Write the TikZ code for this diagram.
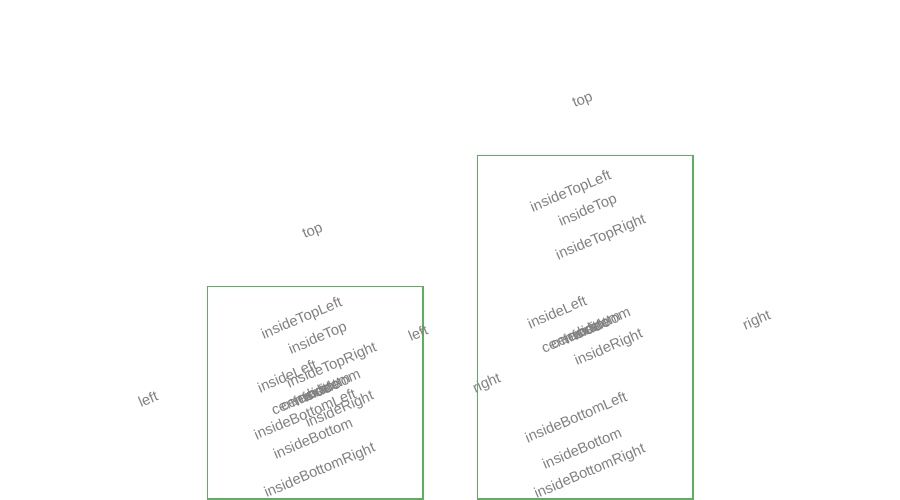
\documentclass[tikz,border=0pt]{standalone}
\usepackage{fontspec}
\setmainfont{Liberation Sans}
\definecolor{barline}{RGB}{92,178,92}
\definecolor{lblgray}{RGB}{128,128,128}
\begin{document}
\begin{tikzpicture}[x=1pt,y=-1pt,
  lbl/.style={font=\fontsize{14.6}{16}\selectfont,text=lblgray,rotate=23,inner sep=0pt,anchor=center},
  barbox/.style={draw=barline,line width=1.4pt}]
\useasboundingbox (0,0) rectangle (900,500);
% bars
\draw[barbox] (207.5,286.5) rectangle (423,499);
\draw[barbox] (477.5,155.5) rectangle (693,499);
% left bar labels
\node[lbl] (Ltop) at (313,232) {top};
\node[lbl] (Lleft) at (148,399) {left};
\node[lbl] (Lright) at (487,384) {right};
\node[lbl] (LTL) at (302,319) {insideTopLeft};
\node[lbl] (LT) at (318,339) {insideTop};
\node[lbl] (LTR) at (332,366) {insideTopRight};
\node[lbl] (LL) at (287,376) {insideLeft};
\node[lbl] (Lcen) at (291,403) {center};
\node[lbl] (Lcen2) at (300,399) {center};
\node[lbl] (Lin) at (313,394) {inside};
\node[lbl] (Lin2) at (322,390) {inside};
\node[lbl] (Lbot) at (329,386) {bottom};
\node[lbl] (Lbot2) at (339,382) {bottom};
\node[lbl] (LR) at (340,410) {insideRight};
\node[lbl] (LBL) at (305,414) {insideBottomLeft};
\node[lbl] (LB) at (313,438) {insideBottom};
\node[lbl] (LBR) at (320,471) {insideBottomRight};
% right bar labels
\node[lbl] (Rtop) at (583,101) {top};
\node[lbl] (Rleft) at (418,333) {left};
\node[lbl] (Rright) at (757,321) {right};
\node[lbl] (RTL) at (571,192) {insideTopLeft};
\node[lbl] (RT) at (588,211) {insideTop};
\node[lbl] (RTR) at (601,238) {insideTopRight};
\node[lbl] (RL) at (557,312) {insideLeft};
\node[lbl] (Rcen) at (561,341) {center};
\node[lbl] (Rcen2) at (570,337) {center};
\node[lbl] (Rin) at (583,332) {inside};
\node[lbl] (Rin2) at (592,328) {inside};
\node[lbl] (Rbot) at (599,324) {bottom};
\node[lbl] (Rbot2) at (609,320) {bottom};
\node[lbl] (RR) at (609,348) {insideRight};
\node[lbl] (RBL) at (576,417) {insideBottomLeft};
\node[lbl] (RB) at (582,448) {insideBottom};
\node[lbl] (RBR) at (590,472) {insideBottomRight};
\end{tikzpicture}
\end{document}
